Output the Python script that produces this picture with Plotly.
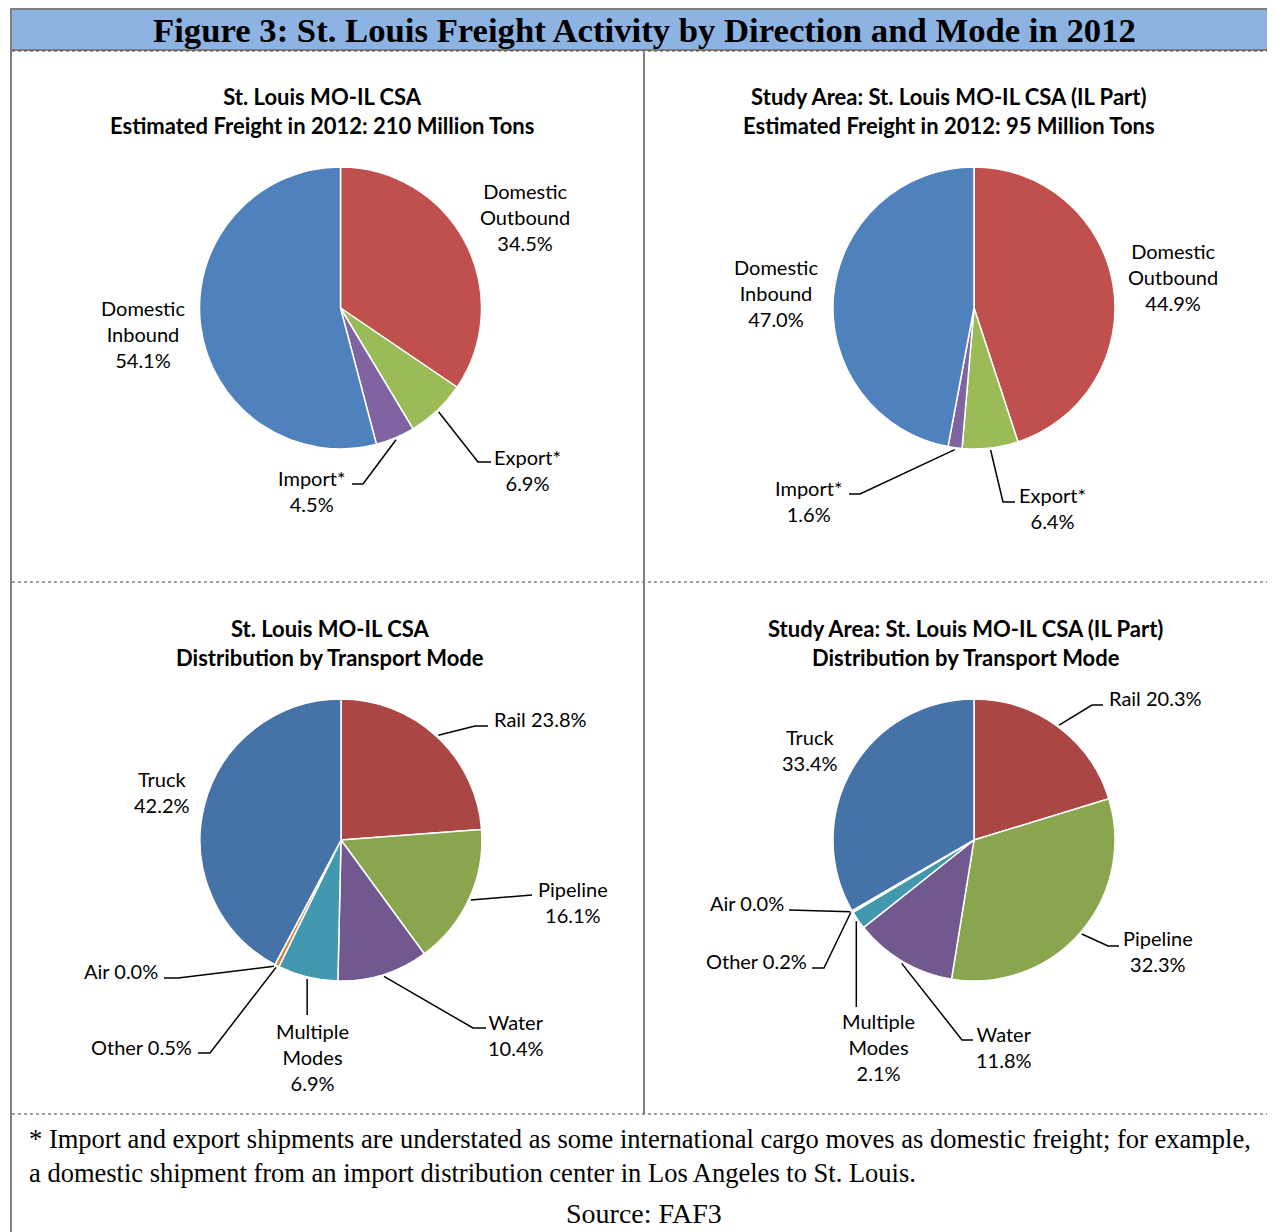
import math
import plotly.graph_objects as go

# page puts the figure 8px in from the top-left corner; size it to fill the rest
OX, OY = 8, 8
W, H = 1275 - OX, 1232 - OY

# ---- data ----
dir_names = ["Domestic Outbound", "Export*", "Import*", "Domestic Inbound"]
dir_csa = [34.5, 6.9, 4.5, 54.1]
dir_il = [44.9, 6.4, 1.6, 47.0]

mode_names = ["Rail", "Pipeline", "Water", "Multiple Modes", "Other", "Air", "Truck"]
mode_csa = [23.8, 16.1, 10.4, 6.9, 0.5, 0.0, 42.2]
mode_il = [20.3, 32.3, 11.8, 2.1, 0.2, 0.0, 33.4]

dir_colors = ["#C0504D", "#9BBB59", "#8064A2", "#4F81BD"]
mode_colors = ["#AA4643", "#89A54E", "#71588F", "#4198AF", "#DB843D", "#93A9CF", "#4572A7"]

# how each label breaks into lines
dir_label_fmt = ["Domestic<br>Outbound<br>{v}", "Export*<br>{v}", "Import*<br>{v}", "Domestic<br>Inbound<br>{v}"]
mode_label_fmt = ["Rail {v}", "Pipeline<br>{v}", "Water<br>{v}", "Multiple<br>Modes<br>{v}",
                  "Other {v}", "Air {v}", "Truck<br>{v}"]

titles = [
    "St. Louis MO-IL CSA<br>Estimated Freight in 2012: 210 Million Tons",
    "Study Area: St. Louis MO-IL CSA (IL Part)<br>Estimated Freight in 2012: 95 Million Tons",
    "St. Louis MO-IL CSA<br>Distribution by Transport Mode",
    "Study Area: St. Louis MO-IL CSA (IL Part)<br>Distribution by Transport Mode",
]
main_title = "Figure 3: St. Louis Freight Activity by Direction and Mode in 2012"
footnote = ("* Import and export shipments are understated as some international cargo moves as domestic freight; for example,"
            "<br>a domestic shipment from an import distribution center in Los Angeles to St. Louis.")
source = "Source: FAF3"

# ---- layout (screen pixels) ----
R = 141
centers = [(340.5, 308), (974, 308), (341, 840), (974, 840)]
title_pos = [(322, 111), (949, 111), (330, 643), (965, 643)]

# label anchor (x, y, xanchor) per slice
label_pos = [
    [(525, 217, "center"), (527, 470, "center"), (311, 491, "center"), (143, 334, "center")],
    [(1173, 277, "center"), (1052, 508, "center"), (808, 501, "center"), (776, 293, "center")],
    [(492, 719, "left"), (573, 902, "center"), (516, 1035, "center"), (312, 1057, "center"),
     (194, 1047, "right"), (160, 971, "right"), (162, 792, "center")],
    [(1107, 698, "left"), (1158, 951, "center"), (1004, 1047, "center"), (878, 1047, "center"),
     (809, 961, "right"), (786, 903, "right"), (810, 750, "center")],
]
# leader line bends (None x = straight down from the slice)
leaders = [
    [None, [(478, 462), (491, 462)], [(363, 484), (352, 484)], None],
    [None, [(1003, 502), (1015, 502)], [(860, 494), (849, 494)], None],
    [[(475, 726), (488, 726)], [(532, 895)], [(473, 1028), (486, 1028)], [(None, 1015)],
     [(210, 1053), (198, 1053)], [(178, 978), (164, 978)], None],
    [[(1092, 705), (1103, 705)], [(1108, 946), (1119, 946)], [(962, 1040), (973, 1040)], [(None, 1007)],
     [(824, 968), (812, 968)], [(789, 910)], None],
]

pies = [
    (dir_names, dir_csa, dir_colors, dir_label_fmt),
    (dir_names, dir_il, dir_colors, dir_label_fmt),
    (mode_names, mode_csa, mode_colors, mode_label_fmt),
    (mode_names, mode_il, mode_colors, mode_label_fmt),
]


def px(x):
    return (x - OX) / W


def py(y):
    return 1 - (y - OY) / H


LABEL_FONT = dict(family="Lato, Calibri, sans-serif", size=20, color="#000000")
TITLE_FONT = dict(family="Lato, Calibri, sans-serif", size=22, color="#000000")
SERIF = "Liberation Serif, Times New Roman, serif"

fig = go.Figure()
annotations = []
shapes = []

# frame
shapes.append(dict(type="rect", xref="paper", yref="paper", x0=px(11), x1=px(1285), y0=py(50), y1=py(9),
                   fillcolor="#8DB3E2", line=dict(color="#808080", width=2), layer="below"))
shapes.append(dict(type="line", xref="paper", yref="paper", x0=px(11), x1=px(11), y0=py(9), y1=py(1240),
                   line=dict(color="#808080", width=2)))
for yy in [51, 582, 1114]:
    shapes.append(dict(type="line", xref="paper", yref="paper", x0=px(12), x1=px(1275), y0=py(yy), y1=py(yy),
                       line=dict(color="#404040", width=1, dash="dot")))
shapes.append(dict(type="line", xref="paper", yref="paper", x0=px(644), x1=px(644), y0=py(52), y1=py(1114),
                   line=dict(color="#808080", width=2)))

for i, (names, vals, cols, fmts) in enumerate(pies):
    cx, cy = centers[i]
    fig.add_trace(go.Pie(
        labels=names, values=vals, sort=False, direction="clockwise", rotation=0,
        marker=dict(colors=cols, line=dict(color="white", width=1.5)),
        textinfo="none", hoverinfo="label+value", showlegend=False,
        domain=dict(x=[px(cx - R), px(cx + R)], y=[py(cy + R), py(cy - R)]),
    ))
    total = sum(vals)
    cum = 0
    for j, v in enumerate(vals):
        mid = (cum + v / 2) / total * 2 * math.pi
        cum += v
        x0 = cx + (R + 2) * math.sin(mid)
        y0 = cy - (R + 2) * math.cos(mid)
        lx, ly, anc = label_pos[i][j]
        annotations.append(dict(x=px(lx), y=py(ly), xref="paper", yref="paper", showarrow=False,
                                xanchor=anc, yanchor="middle", align="center",
                                text=fmts[j].format(v=f"{v:.1f}%"), font=LABEL_FONT))
        if leaders[i][j]:
            path = f"M {px(x0)},{py(y0)}"
            for (ex, ey) in leaders[i][j]:
                ex = x0 if ex is None else ex
                path += f" L {px(ex)},{py(ey)}"
            shapes.append(dict(type="path", xref="paper", yref="paper", path=path,
                               line=dict(color="#000000", width=1.5)))
    tx, ty = title_pos[i]
    annotations.append(dict(x=px(tx), y=py(ty), xref="paper", yref="paper", showarrow=False,
                            xanchor="center", yanchor="middle", align="center",
                            text=f"<b>{titles[i]}</b>", font=TITLE_FONT))

annotations.append(dict(x=px(644), y=py(30), xref="paper", yref="paper", showarrow=False,
                        xanchor="center", yanchor="middle",
                        text=f"<b>{main_title}</b>", font=dict(family=SERIF, size=34.7, color="#000000")))
annotations.append(dict(x=px(27), y=py(1156), xref="paper", yref="paper", showarrow=False,
                        xanchor="left", yanchor="middle", align="left",
                        text=footnote, font=dict(family=SERIF, size=26.5, color="#000000")))
annotations.append(dict(x=px(644), y=py(1213), xref="paper", yref="paper", showarrow=False,
                        xanchor="center", yanchor="middle",
                        text=source, font=dict(family=SERIF, size=28, color="#000000")))

fig.update_layout(
    width=W, height=H,
    margin=dict(l=0, r=0, t=0, b=0),
    paper_bgcolor="white", plot_bgcolor="white",
    annotations=annotations, shapes=shapes,
)

fig.write_html("out.html")
